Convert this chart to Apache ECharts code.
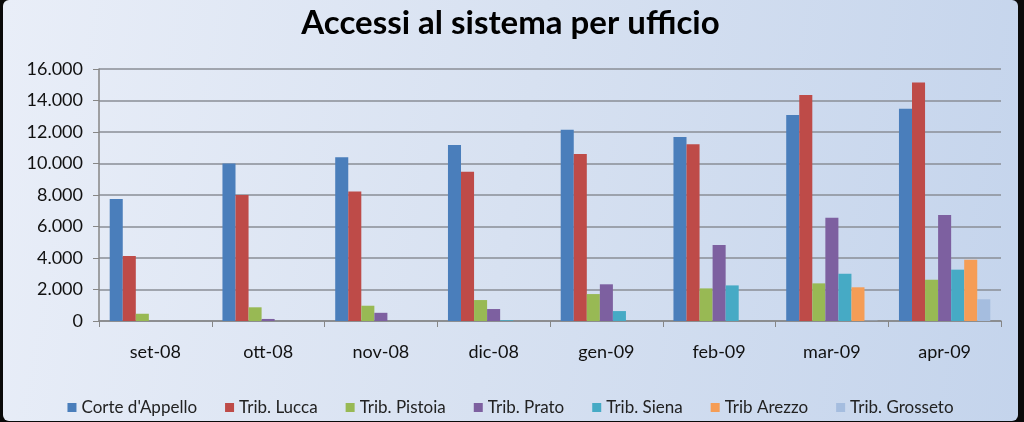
<!DOCTYPE html>
<html><head><meta charset="utf-8">
<script src="https://cdn.jsdelivr.net/npm/echarts@6/dist/echarts.min.js"></script>
<style>
html,body{margin:0;padding:0;background:#0a0a0a;width:1024px;height:422px;overflow:hidden;}
#wrap{position:absolute;left:3px;top:0;width:1015px;height:421px;border-radius:6px;overflow:hidden;
background:linear-gradient(100deg,#e9eef8 0%,#d7e1f1 50%,#c4d4ec 100%);}
#c{width:1015px;height:421px;}
</style></head>
<body><div id="wrap"><div id="c"></div></div>
<script>
const categories = ['set-08','ott-08','nov-08','dic-08','gen-09','feb-09','mar-09','apr-09'];
const seriesNames = ["Corte d'Appello",'Trib. Lucca','Trib. Pistoia','Trib. Prato','Trib. Siena','Trib Arezzo','Trib. Grosseto'];
const corteAppello = [7750, 10000, 10400, 11170, 12150, 11680, 13080, 13480];
const tribLucca    = [4130, 8000, 8230, 9480, 10600, 11230, 14350, 15150];
const tribPistoia  = [460, 870, 970, 1330, 1710, 2070, 2390, 2620];
const tribPrato    = [0, 130, 520, 760, 2330, 4820, 6560, 6730];
const tribSiena    = [0, 0, 0, 50, 630, 2260, 3000, 3260];
const tribArezzo   = [0, 0, 0, 0, 0, 0, 2140, 3890];
const tribGrosseto = [0, 0, 0, 0, 0, 0, 20, 1380];
const yTicks = [0, 2000, 4000, 6000, 8000, 10000, 12000, 14000, 16000];
const colors = ['#4a7ebb','#be4b48','#98b954','#7d60a0','#46aac5','#f59d56','#a5bddf'];
const allData = [corteAppello, tribLucca, tribPistoia, tribPrato, tribSiena, tribArezzo, tribGrosseto];

const chart = echarts.init(document.getElementById('c'), null, {renderer:'canvas'});
const fmt = v => String(v).replace(/\B(?=(\d{3})+(?!\d))/g, '.');
chart.setOption({
  animation:false,
  backgroundColor:'transparent',
  color: colors,
  title:{text:'Accessi al sistema per ufficio', left:'center', top:2,
    textStyle:{fontFamily:'Lato', fontWeight:'bold', fontSize:33, color:'#000'}},
  legend:{bottom:0, left:'center', itemWidth:9, itemHeight:9, itemGap:28, icon:'rect',
    textStyle:{fontFamily:'Lato', fontSize:17, color:'#222'}, data:seriesNames},
  grid:{left:96, right:17, top:69, bottom:100, containLabel:false},
  xAxis:{type:'category', data:categories,
    axisLine:{lineStyle:{color:'#868686', width:1.5}},
    axisTick:{show:true, length:6, lineStyle:{color:'#868686'}},
    axisLabel:{fontFamily:'Lato', fontSize:18, color:'#111', margin:22}},
  yAxis:{type:'value', min:yTicks[0], max:yTicks[yTicks.length-1], interval:2000,
    axisLine:{show:true, lineStyle:{color:'#868686', width:1.5}},
    axisTick:{show:true, length:6, lineStyle:{color:'#868686'}},
    splitLine:{lineStyle:{color:'#8a8e96', width:1.5}},
    axisLabel:{fontFamily:'Lato', fontSize:18, color:'#111', margin:16, formatter:fmt}},
  series: seriesNames.map((n,i)=>({name:n, type:'bar', data:allData[i],
    barGap:'0%', barCategoryGap:'19%'}))
});
</script></body></html>
